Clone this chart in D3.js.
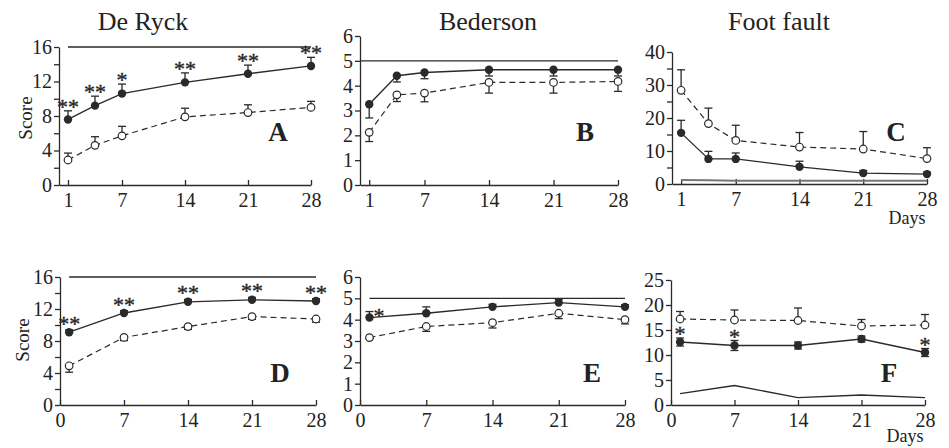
<!DOCTYPE html>
<html>
<head>
<meta charset="utf-8">
<script src="https://d3js.org/d3.v7.min.js"></script>
<style>
  body { margin: 0; background: #fff; }
  text { font-family: "Liberation Serif", "Times New Roman", serif; fill: #222; }
</style>
</head>
<body>
<div id="chart"></div>
<script>

// ---- data ----
var daysTop = [1, 4, 7, 14, 21, 28];
var daysBottom = [1, 7, 14, 21, 28];

// top row
var deRyckTopFilled = [7.6, 9.2, 10.6, 11.9, 12.9, 13.8];
var deRyckTopFilledErr = [1.0, 1.1, 1.1, 1.1, 1.0, 1.0];
var deRyckTopOpen = [2.9, 4.6, 5.7, 7.9, 8.4, 9.0];
var deRyckTopOpenErr = [0.8, 1.0, 1.1, 1.0, 0.9, 0.7];
var deRyckTopStars = ["**", "**", "*", "**", "**", "**"];

var bedersonTopFilled = [3.25, 4.4, 4.53, 4.64, 4.64, 4.64];
var bedersonTopFilledErr = [0.55, 0.25, 0.25, 0.25, 0.25, 0.25];
var bedersonTopOpen = [2.12, 3.63, 3.7, 4.13, 4.13, 4.17];
var bedersonTopOpenErr = [0.37, 0.27, 0.35, 0.43, 0.43, 0.4];

var footTopFilled = [15.5, 7.6, 7.6, 5.2, 3.3, 3.0];
var footTopFilledErr = [3.8, 2.3, 1.8, 1.7, 0.8, 0.6];
var footTopOpen = [28.4, 18.3, 13.2, 11.2, 10.6, 7.7];
var footTopOpenErr = [6.2, 4.7, 4.6, 4.4, 5.3, 3.3];
var footTopSham = [1.2, 1.1, 1.0, 1.0, 1.0, 1.0];

// bottom row
var deRyckBottomFilled = [9.1, 11.5, 12.9, 13.15, 13.0];
var deRyckBottomFilledErr = [0.3, 0.3, 0.3, 0.3, 0.3];
var deRyckBottomOpen = [4.9, 8.45, 9.8, 11.05, 10.75];
var deRyckBottomOpenErr = [0.8, 0.4, 0.35, 0.35, 0.4];
var deRyckBottomStars = ["**", "**", "**", "**", "**"];

var bedersonBottomFilled = [4.1, 4.3, 4.6, 4.8, 4.6];
var bedersonBottomFilledErr = [0.28, 0.3, 0.12, 0.15, 0.1];
var bedersonBottomOpen = [3.16, 3.68, 3.86, 4.3, 4.0];
var bedersonBottomOpenErr = [0.05, 0.23, 0.25, 0.25, 0.2];
var bedersonBottomStars = ["*", "", "", "", ""];

var footBottomFilled = [12.6, 11.9, 11.9, 13.2, 10.5];
var footBottomFilledErr = [0.8, 1.0, 0.7, 0.6, 0.8];
var footBottomOpen = [17.2, 17.0, 16.9, 15.8, 16.0];
var footBottomOpenErr = [1.5, 2.0, 2.5, 1.3, 2.1];
var footBottomSham = [2.26, 3.9, 1.47, 2.0, 1.47];
var footBottomStars = ["*", "*", "", "", "*"];

var deRyckMax = 16;
var bedersonMax = 5;

var titles = ["De Ryck", "Bederson", "Foot fault"];
var xTicksTop = [1, 7, 14, 21, 28];
var xTicksBottom = [0, 7, 14, 21, 28];

// ---- layout ----
var svg = d3.select("#chart").append("svg")
    .attr("width", 949).attr("height", 448);

var ink = "#2a2a2a";
var serif = "'Liberation Serif', 'Times New Roman', serif";

// titles
var titleX = [143, 488, 779];
svg.selectAll("text.title").data(titles).enter().append("text")
    .attr("class", "title")
    .attr("x", function(d, i) { return titleX[i]; })
    .attr("y", 30)
    .attr("text-anchor", "middle")
    .style("font-size", "26px")
    .text(function(d) { return d; });

function drawPanel(p) {
  var x = d3.scaleLinear().domain([0, 28]).range([p.x0, p.x1]);
  var y = d3.scaleLinear().domain(p.yDomain).range([p.yBottom, p.yTop]);
  var g = svg.append("g");

  // y axis
  g.append("g")
      .attr("transform", "translate(" + p.x0 + ",0)")
      .call(d3.axisLeft(y).tickValues(p.yTicks).tickFormat(d3.format("d"))
        .tickSize(5).tickPadding(2).tickSizeOuter(0));
  if (p.yMinor) {
    g.append("g")
      .attr("transform", "translate(" + p.x0 + ",0)")
      .call(d3.axisLeft(y).tickValues(p.yMinor).tickSize(5).tickFormat("").tickSizeOuter(0))
      .select(".domain").remove();
  }
  // x axis, ticks pointing inward
  g.append("g")
      .attr("transform", "translate(0," + p.yBottom + ")")
      .call(d3.axisBottom(x).tickValues(p.xTicks).tickSize(-5).tickPadding(8).tickSizeOuter(0));
  g.selectAll("g").attr("font-family", serif);
  g.selectAll(".domain, .tick line").attr("stroke", ink).attr("stroke-width", 1.3);
  g.selectAll(".tick text")
      .style("font-family", serif)
      .style("font-size", "20px").attr("fill", ink);

  // reference (max score) line
  if (p.refValue !== undefined) {
    g.append("line")
      .attr("x1", x(p.refFrom)).attr("x2", x(28))
      .attr("y1", y(p.refValue)).attr("y2", y(p.refValue))
      .attr("stroke", ink).attr("stroke-width", 1.3);
  }

  // sham line
  if (p.sham) {
    g.append("path")
      .datum(p.sham)
      .attr("fill", "none")
      .attr("stroke", p.shamColor)
      .attr("stroke-width", p.shamWidth)
      .attr("d", d3.line()
        .x(function(d, i) { return x(p.days[i]); })
        .y(function(d) { return y(d); }));
  }

  var line = d3.line()
      .x(function(d, i) { return x(p.days[i]); })
      .y(function(d) { return y(d); });

  g.append("path").datum(p.open)
      .attr("fill", "none").attr("stroke", ink).attr("stroke-width", 1.2)
      .attr("stroke-dasharray", "6,4")
      .attr("d", line);
  g.append("path").datum(p.filled)
      .attr("fill", "none").attr("stroke", ink).attr("stroke-width", 1.3)
      .attr("d", line);

  // error bars
  function errorBars(vals, errs, dir) {
    vals.forEach(function(v, i) {
      var cx = x(p.days[i]);
      var ends = [];
      if (dir === "up" || dir === "both") ends.push(v + errs[i]);
      if (dir === "down" || dir === "both") ends.push(v - errs[i]);
      ends.forEach(function(e) {
        g.append("line")
          .attr("x1", cx).attr("x2", cx)
          .attr("y1", y(v)).attr("y2", y(e))
          .attr("stroke", ink).attr("stroke-width", 1.3);
        g.append("line")
          .attr("x1", cx - 4).attr("x2", cx + 4)
          .attr("y1", y(e)).attr("y2", y(e))
          .attr("stroke", ink).attr("stroke-width", 1.3);
      });
    });
  }
  errorBars(p.open, p.openErr, p.openDir);
  errorBars(p.filled, p.filledErr, p.filledDir);

  // markers
  g.selectAll("circle.open").data(p.open).enter().append("circle")
      .attr("cx", function(d, i) { return x(p.days[i]); })
      .attr("cy", function(d) { return y(d); })
      .attr("r", 3.8)
      .attr("fill", "#fff").attr("stroke", ink).attr("stroke-width", 1.2);
  g.selectAll("circle.filled").data(p.filled).enter().append("circle")
      .attr("cx", function(d, i) { return x(p.days[i]); })
      .attr("cy", function(d) { return y(d); })
      .attr("r", 4.2)
      .attr("fill", ink);

  // significance stars
  if (p.stars) {
    g.selectAll("text.star").data(p.stars).enter().append("text")
      .attr("x", function(d, i) { return x(p.days[i]) + (p.starDx || 0); })
      .attr("y", function(d, i) {
        var top = p.filled[i] + (p.filledDir === "down" ? 0 : p.filledErr[i]);
        return y(top) + (p.starDy || 0);
      })
      .attr("text-anchor", p.starDx ? "start" : "middle")
      .style("font-size", "22px")
      .attr("stroke", ink).attr("stroke-width", 0.4)
      .text(function(d) { return d; });
  }

  // panel letter
  g.append("text")
    .attr("x", p.letterX).attr("y", p.letterY)
    .attr("text-anchor", "middle")
    .style("font-size", "27px").style("font-weight", "bold")
    .text(p.letter);

  if (p.daysDy) {
    g.append("text")
      .attr("x", x(28) - 20).attr("y", p.yBottom + p.daysDy)
      .attr("text-anchor", "middle")
      .style("font-size", "18px")
      .text("Days");
  }
  if (p.scoreLabel) {
    g.append("text")
      .attr("transform", "translate(" + p.scoreX + "," + p.scoreY + ") rotate(-90)")
      .attr("text-anchor", "middle")
      .attr("dy", "0.35em")
      .style("font-size", "19px")
      .text("Score");
  }
}

// A
drawPanel({
  x0: 59, x1: 311, yTop: 47, yBottom: 185, yDomain: [0, 16],
  yTicks: [0, 4, 8, 12, 16], yMinor: [2, 6, 10, 14], xTicks: xTicksTop,
  days: daysTop,
  filled: deRyckTopFilled, filledErr: deRyckTopFilledErr, filledDir: "up",
  open: deRyckTopOpen, openErr: deRyckTopOpenErr, openDir: "up",
  stars: deRyckTopStars, starDy: 3,
  refValue: deRyckMax, refFrom: 1,
  letter: "A", letterX: 278, letterY: 141,
  scoreLabel: true, scoreX: 25, scoreY: 118
});
// B
drawPanel({
  x0: 360, x1: 618, yTop: 36, yBottom: 185, yDomain: [0, 6],
  yTicks: [0, 1, 2, 3, 4, 5, 6], xTicks: xTicksTop,
  days: daysTop,
  filled: bedersonTopFilled, filledErr: bedersonTopFilledErr, filledDir: "down",
  open: bedersonTopOpen, openErr: bedersonTopOpenErr, openDir: "down",
  refValue: bedersonMax, refFrom: 0,
  letter: "B", letterX: 585, letterY: 141
});
// C
drawPanel({
  x0: 672, x1: 927, yTop: 52, yBottom: 184, yDomain: [0, 40],
  yTicks: [0, 10, 20, 30, 40], yMinor: [5, 15, 25, 35], xTicks: xTicksTop,
  days: daysTop,
  filled: footTopFilled, filledErr: footTopFilledErr, filledDir: "up",
  open: footTopOpen, openErr: footTopOpenErr, openDir: "up",
  sham: footTopSham, shamColor: "#777", shamWidth: 2,
  letter: "C", letterX: 896, letterY: 141,
  daysDy: 40
});
// D
drawPanel({
  x0: 60, x1: 316, yTop: 277, yBottom: 405, yDomain: [0, 16],
  yTicks: [0, 4, 8, 12, 16], yMinor: [2, 6, 10, 14], xTicks: xTicksBottom,
  days: daysBottom,
  filled: deRyckBottomFilled, filledErr: deRyckBottomFilledErr, filledDir: "up",
  open: deRyckBottomOpen, openErr: deRyckBottomOpenErr, openDir: "down",
  stars: deRyckBottomStars, starDy: 1,
  refValue: deRyckMax, refFrom: 1,
  letter: "D", letterX: 280, letterY: 382,
  scoreLabel: true, scoreX: 22, scoreY: 340
});
// E
drawPanel({
  x0: 360, x1: 625, yTop: 277, yBottom: 405, yDomain: [0, 6],
  yTicks: [0, 1, 2, 3, 4, 5, 6], xTicks: xTicksBottom,
  days: daysBottom,
  filled: bedersonBottomFilled, filledErr: bedersonBottomFilledErr, filledDir: "up",
  open: bedersonBottomOpen, openErr: bedersonBottomOpenErr, openDir: "down",
  stars: bedersonBottomStars, starDx: 4, starDy: 11,
  refValue: bedersonMax, refFrom: 1,
  letter: "E", letterX: 592, letterY: 382
});
// F
drawPanel({
  x0: 671, x1: 925, yTop: 280, yBottom: 405, yDomain: [0, 25],
  yTicks: [0, 5, 10, 15, 20, 25], xTicks: xTicksBottom,
  days: daysBottom,
  filled: footBottomFilled, filledErr: footBottomFilledErr, filledDir: "both",
  open: footBottomOpen, openErr: footBottomOpenErr, openDir: "up",
  sham: footBottomSham, shamColor: "#2a2a2a", shamWidth: 1.3,
  stars: footBottomStars, starDy: 3,
  letter: "F", letterX: 889, letterY: 382,
  daysDy: 37
});

</script>
</body>
</html>
